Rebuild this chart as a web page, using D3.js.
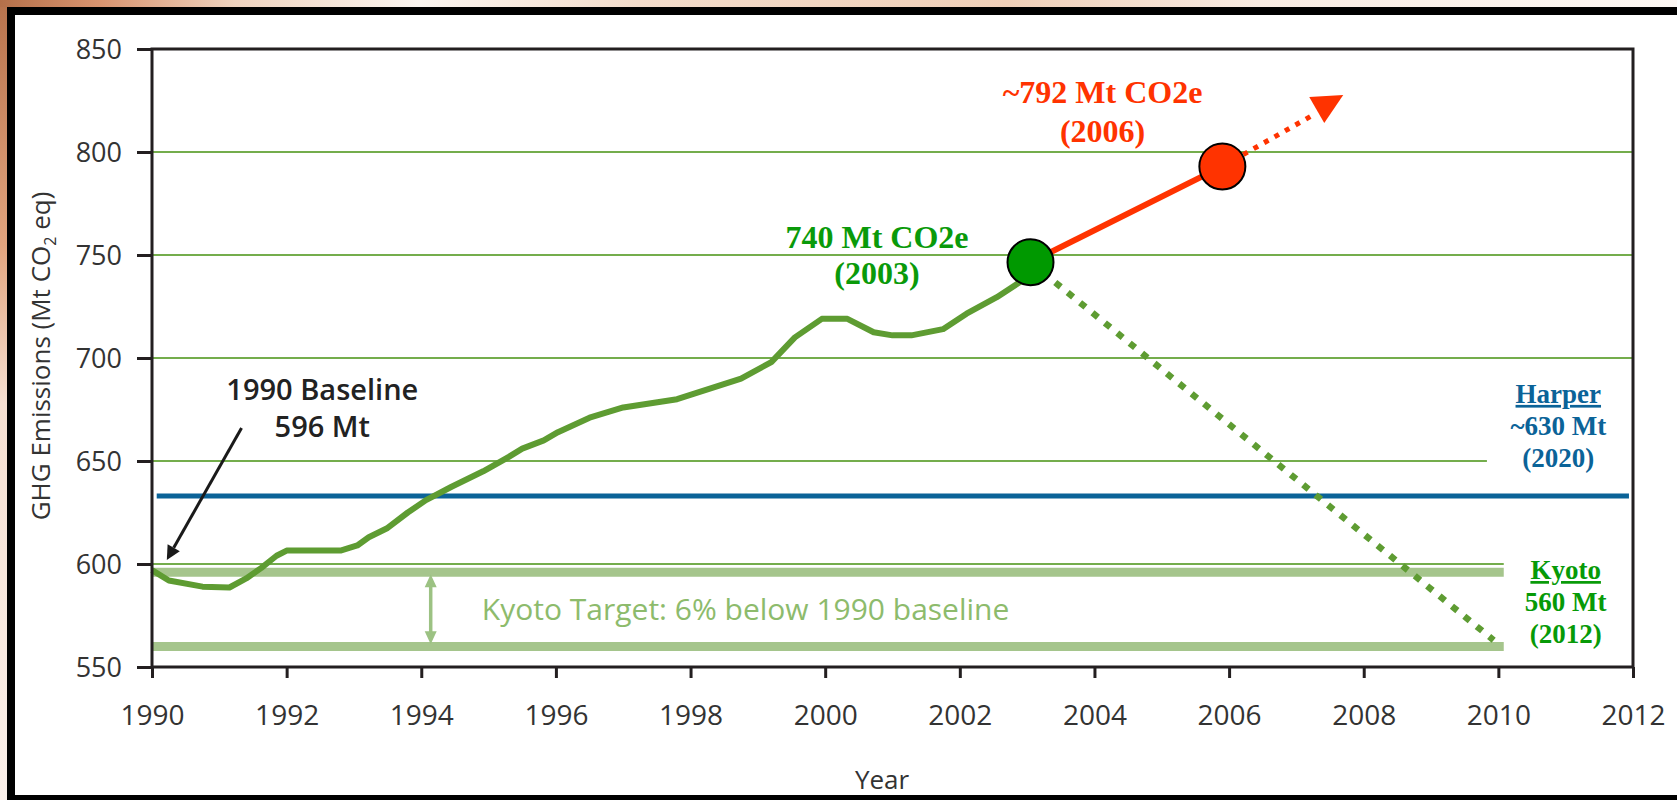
<!DOCTYPE html>
<html>
<head>
<meta charset="utf-8">
<style>
  html, body { margin: 0; padding: 0; background: #fff; }
  svg { display: block; }
  .axis text { font-family: "Open Sans", sans-serif; fill: #333; }
  .axis path, .axis line { stroke: #231f20; stroke-width: 3; }
  .note { font-family: "Liberation Serif", "Times New Roman", serif; font-weight: bold; text-anchor: middle; }
</style>
</head>
<body>
<svg id="chart" width="1677" height="800"></svg>
<script src="https://cdn.jsdelivr.net/npm/d3@7/dist/d3.min.js"></script>
<script>
'use strict';

// emissions (Mt CO2 eq)
const years = [1990, 1990.25, 1990.75, 1991.15, 1991.4, 1991.62, 1991.85, 1992.0, 1992.8, 1993.05,
	1993.22, 1993.5, 1993.8, 1994.07, 1994.45, 1994.92, 1995.3, 1995.5, 1995.82, 1996.03,
	1996.5, 1997.0, 1997.8, 1998.75, 1999.2, 1999.55, 1999.95, 2000.33, 2000.72, 2001.0,
	2001.28, 2001.75, 2002.1, 2002.55, 2002.9, 2003.05];
const emissions = [597, 592, 589, 588.6, 593, 598, 604, 606.5, 606.5, 609,
	613, 617.5, 625, 631, 637.5, 645, 652, 656, 660, 664,
	671, 676, 680, 690, 698, 710, 719, 719, 712.5, 711,
	711, 714, 721.5, 729.5, 737, 746.5];

const xTicks = [1990, 1992, 1994, 1996, 1998, 2000, 2002, 2004, 2006, 2008, 2010, 2012];
const yTicks = [550, 600, 650, 700, 750, 800, 850];

const gridValues = [800, 750, 700, 650, 600];
const gridEnds = [2012, 2012, 2012, 2009.83, 2010.08];

const kyotoBands = [596, 560];
const kyotoEnd = 2010.08;
const harperLevel = 633;
const harperSpan = [1990.07, 2011.94];

const point2003 = [2003.05, 746.5];
const point2006 = [2005.9, 793];
const trendEnd = [2007.25, 818];
const kyotoPathEnd = [2009.93, 563];

const baselineArrow = [[1991.33, 666], [1990.22, 602]];
const kyotoGap = [1994.14, 595, 561];

const GREEN_LINE = '#5e9c32';
const GRID = '#74ad4c';
const BAND = '#a5c58c';
const RED = '#ff3300';
const BLUE = '#0b6398';
const KGREEN = '#079a07';

const $svg = d3.select('#chart');
const x = d3.scaleLinear().domain([1990, 2012]).range([152, 1633]);
const y = d3.scaleLinear().domain([550, 850]).range([667, 49]);

drawBackdrop();
drawGuides();
drawSeries();
drawAxes();
drawNotes();

function drawBackdrop() {
	const defs = $svg.append('defs');
	const topGrad = defs.append('linearGradient').attr('id', 'topGlow');
	[['0%', '#b5704a'], ['6%', '#d89470'], ['14%', '#efd3bf'], ['25%', '#fbf5f0'],
	 ['38%', '#f3dccb'], ['60%', '#efcfb8'], ['75%', '#f8ebe2'], ['100%', '#fdf8f4']]
		.forEach(s => topGrad.append('stop').attr('offset', s[0]).attr('stop-color', s[1]));
	const leftGrad = defs.append('linearGradient').attr('id', 'leftGlow')
		.attr('x1', 0).attr('y1', 0).attr('x2', 0).attr('y2', 1);
	[['0%', '#b9744e'], ['30%', '#e2a47e'], ['50%', '#f6e0d2'], ['100%', '#fbf0ea']]
		.forEach(s => leftGrad.append('stop').attr('offset', s[0]).attr('stop-color', s[1]));

	$svg.append('rect').attr('width', 1677).attr('height', 800).attr('fill', 'url(#topGlow)');
	$svg.append('rect').attr('y', 7).attr('width', 7).attr('height', 793).attr('fill', 'url(#leftGlow)');
	$svg.append('rect').attr('x', 7).attr('y', 7).attr('width', 1700).attr('height', 800).attr('fill', '#000');
	$svg.append('rect').attr('x', 15).attr('y', 15).attr('width', 1700).attr('height', 780).attr('fill', '#fff');
}

function drawGuides() {
	$svg.append('g')
		.selectAll('line')
		.data(gridValues)
		.join('line')
		.attr('x1', x(1990))
		.attr('x2', (d, i) => x(gridEnds[i]))
		.attr('y1', d => y(d))
		.attr('y2', d => y(d))
		.attr('stroke', GRID)
		.attr('stroke-width', 2);

	$svg.append('g')
		.selectAll('line')
		.data(kyotoBands)
		.join('line')
		.attr('x1', x(1990))
		.attr('x2', x(kyotoEnd))
		.attr('y1', d => y(d))
		.attr('y2', d => y(d))
		.attr('stroke', BAND)
		.attr('stroke-width', 9);

	$svg.append('line')
		.attr('x1', x(harperSpan[0]))
		.attr('x2', x(harperSpan[1]))
		.attr('y1', y(harperLevel))
		.attr('y2', y(harperLevel))
		.attr('stroke', BLUE)
		.attr('stroke-width', 5);

	// double arrow between baseline and target
	const ax = x(kyotoGap[0]);
	const top = y(kyotoGap[1]);
	const bottom = y(kyotoGap[2]);
	$svg.append('line')
		.attr('x1', ax).attr('x2', ax)
		.attr('y1', top + 10).attr('y2', bottom - 10)
		.attr('stroke', '#9cc283').attr('stroke-width', 3.5);
	$svg.append('path')
		.attr('d', `M${ax},${top} l-6,13 h12 Z M${ax},${bottom} l-6,-13 h12 Z`)
		.attr('fill', '#9cc283');

	$svg.append('text')
		.attr('x', x(1994.9))
		.attr('y', y(572.8))
		.attr('font-family', '"Open Sans", sans-serif')
		.attr('font-size', 30)
		.attr('fill', '#8dbb6c')
		.text('Kyoto Target: 6% below 1990 baseline');
}

function drawSeries() {
	const line = d3.line().x(d => x(d[0])).y(d => y(d[1]));
	const series = years.map((yr, i) => [yr, emissions[i]]);

	$svg.append('path')
		.attr('d', line([point2003, kyotoPathEnd]))
		.attr('fill', 'none')
		.attr('stroke', GREEN_LINE)
		.attr('stroke-width', 6.5)
		.attr('stroke-dasharray', '7,9');

	$svg.append('path')
		.attr('d', line(series))
		.attr('fill', 'none')
		.attr('stroke', GREEN_LINE)
		.attr('stroke-width', 6)
		.attr('stroke-linejoin', 'round');

	$svg.append('path')
		.attr('d', line([point2006, trendEnd]))
		.attr('fill', 'none')
		.attr('stroke', RED)
		.attr('stroke-width', 5)
		.attr('stroke-dasharray', '5,7');

	$svg.append('path')
		.attr('transform', `translate(${x(trendEnd[0])},${y(trendEnd[1])})`)
		.attr('d', 'M-4,-18 L30,-20 L11,8 Z')
		.attr('fill', RED);

	$svg.append('path')
		.attr('d', line([point2003, point2006]))
		.attr('stroke', RED)
		.attr('stroke-width', 6);

	$svg.append('g')
		.selectAll('circle')
		.data([[point2003, '#009900'], [point2006, RED]])
		.join('circle')
		.attr('cx', d => x(d[0][0]))
		.attr('cy', d => y(d[0][1]))
		.attr('r', 23)
		.attr('fill', d => d[1])
		.attr('stroke', '#000')
		.attr('stroke-width', 2);
}

function drawAxes() {
	// frame of the plot
	$svg.append('rect')
		.attr('x', x(1990)).attr('y', y(850))
		.attr('width', x(2012) - x(1990))
		.attr('height', y(550) - y(850))
		.attr('fill', 'none')
		.attr('stroke', '#231f20')
		.attr('stroke-width', 3);

	const $y = $svg.append('g')
		.attr('class', 'axis')
		.attr('transform', `translate(${x(1990)},0)`)
		.call(d3.axisLeft(y).tickValues(yTicks).tickSize(15).tickSizeOuter(0).tickPadding(15));
	$y.selectAll('text').attr('font-size', 27).attr('dy', '0.36em');
	$y.select('.domain').remove();

	const $x = $svg.append('g')
		.attr('class', 'axis')
		.attr('transform', `translate(0,${y(550)})`)
		.call(d3.axisBottom(x).tickValues(xTicks).tickFormat(d3.format('d')).tickSize(11).tickSizeOuter(0));
	$x.selectAll('text').attr('font-size', 28).attr('y', 58).attr('dy', 0);
	$x.select('.domain').remove();

	$svg.append('text')
		.attr('transform', 'translate(50,356) rotate(-90)')
		.attr('text-anchor', 'middle')
		.attr('font-family', '"Open Sans", sans-serif')
		.attr('font-size', 26)
		.attr('fill', '#333')
		.call(t => {
			t.append('tspan').text('GHG Emissions (Mt CO');
			t.append('tspan').attr('font-size', 16).attr('dy', 6).text('2');
			t.append('tspan').attr('dy', -6).text(' eq)');
		});

	$svg.append('text')
		.attr('x', 882).attr('y', 789)
		.attr('text-anchor', 'middle')
		.attr('font-family', '"Open Sans", sans-serif')
		.attr('font-size', 26)
		.attr('fill', '#333')
		.text('Year');
}

function drawNotes() {
	// 1990 baseline pointer
	const tail = [x(baselineArrow[0][0]), y(baselineArrow[0][1])];
	const tip = [x(baselineArrow[1][0]), y(baselineArrow[1][1])];
	const a = Math.atan2(tip[1] - tail[1], tip[0] - tail[0]);
	const back = [tip[0] - 14 * Math.cos(a), tip[1] - 14 * Math.sin(a)];
	$svg.append('line')
		.attr('x1', tail[0]).attr('y1', tail[1])
		.attr('x2', back[0]).attr('y2', back[1])
		.attr('stroke', '#1a1a1a').attr('stroke-width', 3);
	$svg.append('path')
		.attr('d', 'M' + tip + 'L' + [back[0] + 7 * Math.sin(a), back[1] - 7 * Math.cos(a)] +
			'L' + [back[0] - 7 * Math.sin(a), back[1] + 7 * Math.cos(a)] + 'Z')
		.attr('fill', '#1a1a1a');

	multiline(['1990 Baseline', '596 Mt'], [1992.53, 679.6], 37)
		.attr('font-family', '"Open Sans", sans-serif')
		.attr('font-weight', 600)
		.attr('font-size', 29)
		.attr('text-anchor', 'middle')
		.attr('fill', '#222');

	multiline(['~792 Mt CO2e', '(2006)'], [2004.12, 823.8], 39)
		.attr('class', 'note').attr('font-size', 32).attr('fill', RED);

	multiline(['740 Mt CO2e', '(2003)'], [2000.77, 753.4], 36)
		.attr('class', 'note').attr('font-size', 32).attr('fill', '#0a9a0a');

	const $h = multiline(['Harper', '~630 Mt', '(2020)'], [2010.89, 678.2], 32)
		.attr('class', 'note').attr('font-size', 27).attr('fill', BLUE);
	$h.select('tspan').attr('text-decoration', 'underline');

	const $k = multiline(['Kyoto', '560 Mt', '(2012)'], [2011.0, 592.7], 32)
		.attr('class', 'note').attr('font-size', 27).attr('fill', KGREEN);
	$k.select('tspan').attr('text-decoration', 'underline');
}

function multiline(lines, at, step) {
	const $t = $svg.append('text');
	$t.selectAll('tspan')
		.data(lines)
		.join('tspan')
		.attr('x', x(at[0]))
		.attr('y', (d, i) => y(at[1]) + i * step)
		.text(d => d);
	return $t;
}
</script>
</body>
</html>
